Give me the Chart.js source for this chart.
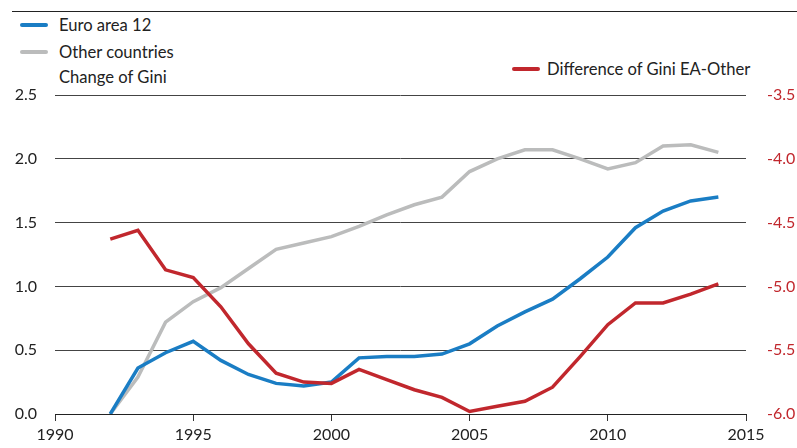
<!DOCTYPE html>
<html>
<head>
<meta charset="utf-8">
<script src="https://cdn.jsdelivr.net/npm/chart.js@4"></script>
<style>
  html, body { margin:0; padding:0; background:#fff; }
  #wrap { position:relative; width:797px; height:448px; overflow:hidden; font-family: Lato, "Noto Sans", sans-serif; color:#222; }
  #rule { position:absolute; left:12px; top:11px; width:785px; height:0; border-top:1.5px solid #222; }
  .lg { position:absolute; font-size:16.6px; line-height:20px; white-space:nowrap; }
  .sw { position:absolute; height:4px; width:28px; border-radius:2px; }
  canvas { position:absolute; left:0; top:0; }
</style>
</head>
<body>
<div id="wrap">
  <div id="rule"></div>
  <div class="sw" style="left:20px; top:23px; background:#1a7dc4;"></div>
  <div class="lg" style="left:59px; top:15px;">Euro area 12</div>
  <div class="sw" style="left:20px; top:50px; background:#bbbcbc;"></div>
  <div class="lg" style="left:59px; top:42px;">Other countries</div>
  <div class="lg" style="left:59px; top:67px;">Change of Gini</div>
  <div class="sw" style="left:512px; top:67px; background:#c1272d;"></div>
  <div class="lg" style="left:547px; top:59px;">Difference of Gini EA-Other</div>
  <canvas id="c" width="797" height="448"></canvas>
</div>
<script>
const years = [1992,1993,1994,1995,1996,1997,1998,1999,2000,2001,2002,2003,2004,2005,2006,2007,2008,2009,2010,2011,2012,2013,2014];
const euroArea12 = [0.00,0.36,0.48,0.57,0.42,0.31,0.24,0.22,0.25,0.44,0.45,0.45,0.47,0.55,0.69,0.80,0.90,1.06,1.23,1.46,1.59,1.67,1.70];
const otherCountries = [0.00,0.29,0.72,0.88,0.99,1.14,1.29,1.34,1.39,1.47,1.56,1.64,1.70,1.90,2.00,2.07,2.07,2.00,1.92,1.97,2.10,2.11,2.05];
const differenceEAOther = [-4.63,-4.56,-4.87,-4.93,-5.16,-5.45,-5.68,-5.75,-5.76,-5.65,-5.73,-5.81,-5.87,-5.98,-5.94,-5.90,-5.79,-5.55,-5.30,-5.13,-5.13,-5.06,-4.98];
const xTicks = [1990,1995,2000,2005,2010,2015];
const leftTicks = [0.0,0.5,1.0,1.5,2.0,2.5];
const rightTicks = [-6.0,-5.5,-5.0,-4.5,-4.0,-3.5];

const pts = arr => years.map((y,i)=>({x:y, y:arr[i]}));
const font = { family: "Lato, 'Noto Sans', sans-serif", size: 16 };

new Chart(document.getElementById('c'), {
  type: 'line',
  data: {
    datasets: [
      { label:'Other countries', data: pts(otherCountries), yAxisID:'y', borderColor:'#bbbcbc', borderWidth:3.5, pointRadius:0, tension:0, order:3 },
      { label:'Euro area 12', data: pts(euroArea12), yAxisID:'y', borderColor:'#1a7dc4', borderWidth:3.5, pointRadius:0, tension:0, order:2 },
      { label:'Difference of Gini EA-Other', data: pts(differenceEAOther), yAxisID:'y2', borderColor:'#c1272d', borderWidth:3.5, pointRadius:0, tension:0, order:1 }
    ]
  },
  options: {
    responsive:false, animation:false,
    layout: { padding: { top: 95, left:0, right:0, bottom:0 } },
    plugins: { legend:{display:false}, tooltip:{enabled:false} },
    scales: {
      x: {
        type:'linear', min:1990, max:2015,
        afterBuildTicks: s => { s.ticks = xTicks.map(v=>({value:v})); },
        ticks: { font, color:'#222', padding:4, maxRotation:0, callback: v => String(v) },
        grid: { drawOnChartArea:false, drawTicks:true, tickLength:7, color:'#333' },
        border: { color:'#222', width:1 },
        afterFit: s => { s.height = 34; }
      },
      y: {
        position:'left', min:0, max:2.5,
        afterBuildTicks: s => { s.ticks = leftTicks.map(v=>({value:v})); },
        ticks: { font, color:'#222', padding:18, callback: v => Number(v).toFixed(1) },
        grid: { drawTicks:false, color:'#444', lineWidth:1 },
        border: { display:false },
        afterFit: s => { s.width = 55; }
      },
      y2: {
        position:'right', min:-6, max:-3.5,
        afterBuildTicks: s => { s.ticks = rightTicks.map(v=>({value:v})); },
        ticks: { font, color:'#c1272d', padding:21, callback: v => Number(v).toFixed(1) },
        grid: { drawOnChartArea:false, drawTicks:false },
        border: { display:false },
        afterFit: s => { s.width = 51; }
      }
    }
  }
});
</script>
</body>
</html>
